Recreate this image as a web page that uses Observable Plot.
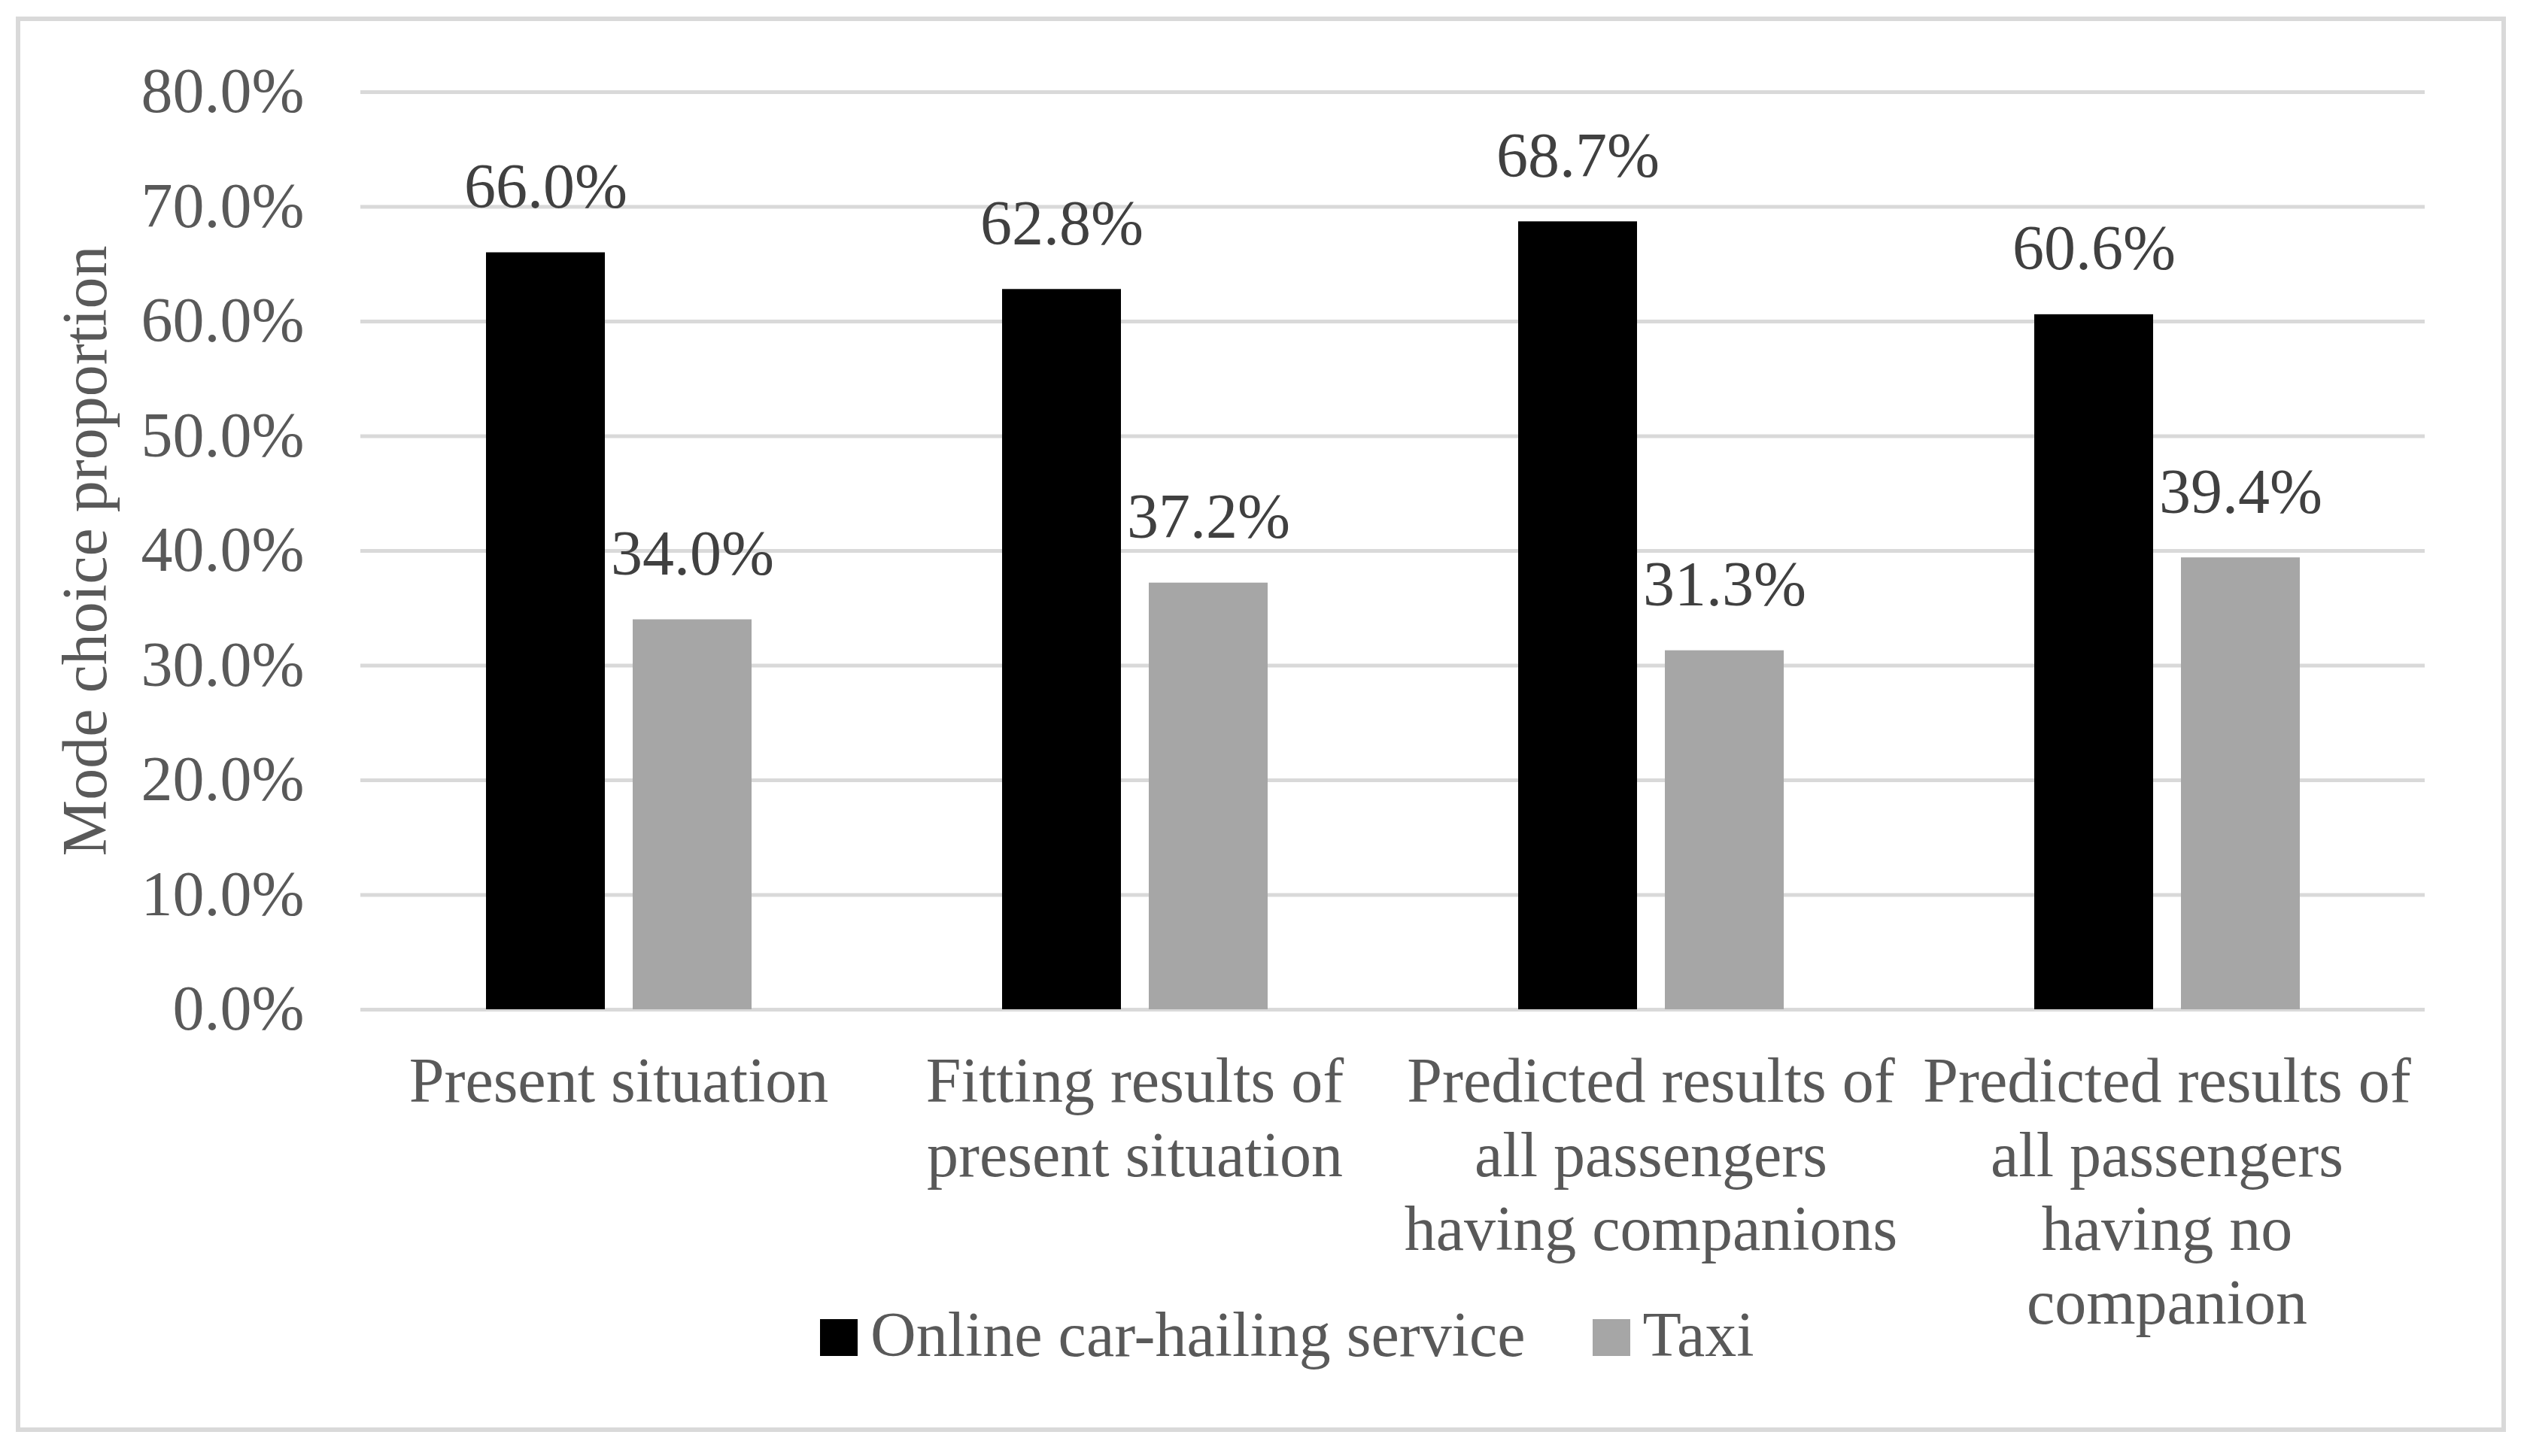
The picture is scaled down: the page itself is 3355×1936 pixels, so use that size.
<!DOCTYPE html>
<html>
<head>
<meta charset="utf-8">
<script src="https://cdn.jsdelivr.net/npm/d3@7"></script>
<script src="https://cdn.jsdelivr.net/npm/@observablehq/plot@0.6"></script>
<style>
  html, body { margin: 0; padding: 0; background: #fff; }
  body { position: relative; width: 3355px; height: 1936px; overflow: hidden; font-family: "Liberation Serif", "Times New Roman", serif; }
  #frame { position: absolute; left: 21px; top: 22px; width: 3310px; height: 1882px; border: 6px solid #d9d9d9; box-sizing: border-box; }
  #chart { position: absolute; left: 0; top: 0; }
  #legend { position: absolute; left: 1090px; top: 1733px; font-size: 84px; line-height: 84px; color: #595959; white-space: nowrap; }
  #legend .item { display: inline; }
  #legend .item + .item { margin-left: 89px; }
  #legend .sw { display: inline-block; width: 50px; height: 49px; margin-right: 17px; vertical-align: baseline; }
</style>
</head>
<body>
<div id="frame"></div>
<div id="chart"></div>
<div id="legend"></div>
<script>
// ---- data ----
const categories = [
  "Present situation",
  "Fitting results of\npresent situation",
  "Predicted results of\nall passengers\nhaving companions",
  "Predicted results of\nall passengers\nhaving no\ncompanion"
];
const series = ["Online car-hailing service", "Taxi"];
const onlineValues = [66.0, 62.8, 68.7, 60.6];
const taxiValues = [34.0, 37.2, 31.3, 39.4];
const yTicks = [0, 10, 20, 30, 40, 50, 60, 70, 80];
const yLabel = "Mode choice proportion";
const colors = ["#000000", "#a6a6a6"];

const table = [];
categories.forEach((c, i) => {
  table.push({category: c, series: series[0], value: onlineValues[i]});
  table.push({category: c, series: series[1], value: taxiValues[i]});
});
const pct = d => d.toFixed(1) + "%";

const chart = Plot.plot({
  width: 3355,
  height: 1936,
  marginLeft: 478,
  marginRight: 131,
  marginTop: 122,
  marginBottom: 594,
  style: {fontFamily: "Liberation Serif", fontSize: "84px", color: "#595959", background: "transparent", overflow: "visible"},
  fx: {domain: categories, padding: 0},
  x: {domain: series, paddingInner: 0.19, paddingOuter: 0.85, axis: null},
  y: {domain: [0, 80]},
  color: {domain: series, range: colors},
  marks: [
    Plot.gridY(yTicks, {stroke: "#d9d9d9", strokeWidth: 5, strokeOpacity: 1}),
    Plot.barY(table, {fx: "category", x: "series", y: "value", fill: "series"}),
    Plot.text(table, {fx: "category", x: "series", y: "value", text: d => pct(d.value), dy: -60, lineAnchor: "bottom", fontSize: 84, fill: "#404040"}),
    Plot.axisY({ticks: yTicks, tickFormat: pct, tickSize: 0, tickPadding: 75, fontSize: 84, label: yLabel, labelAnchor: "center", labelOffset: 398, labelArrow: "none"}),
    Plot.axisFx({anchor: "bottom", tickSize: 0, tickPadding: 53, fontSize: 84, lineHeight: 1.17, label: null})
  ]
});
document.getElementById("chart").appendChild(chart);

// legend
const legend = document.getElementById("legend");
series.forEach((s, i) => {
  const item = document.createElement("span");
  item.className = "item";
  const sw = document.createElement("span");
  sw.className = "sw";
  sw.style.background = colors[i];
  item.appendChild(sw);
  item.appendChild(document.createTextNode(s));
  legend.appendChild(item);
});
</script>
</body>
</html>
